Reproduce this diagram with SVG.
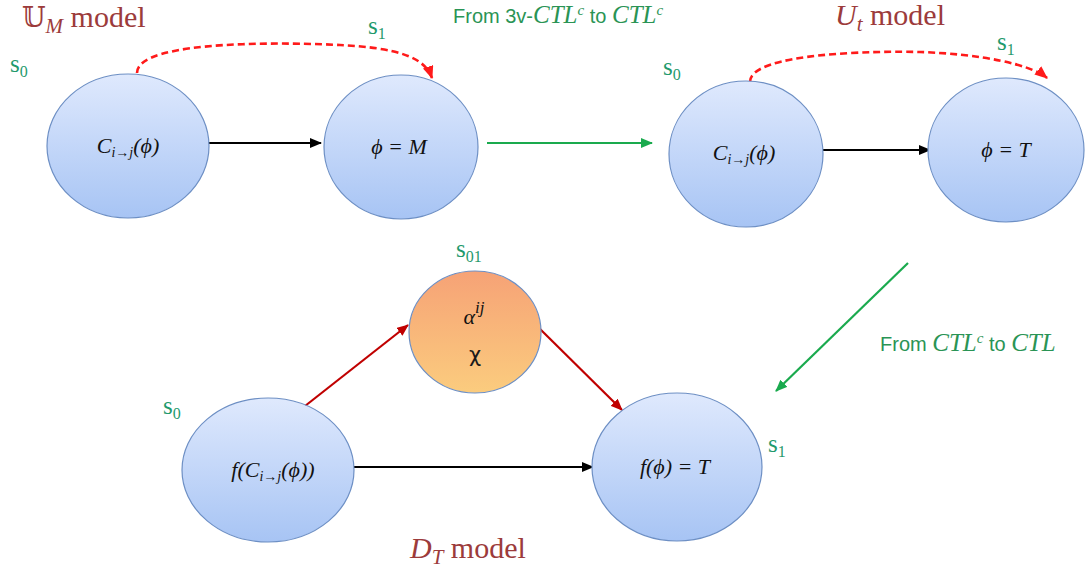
<svg xmlns="http://www.w3.org/2000/svg" width="1085" height="573" viewBox="0 0 1085 573">
<defs>
<linearGradient id="gBlue" x1="0" y1="0" x2="0" y2="1">
<stop offset="0" stop-color="#dfe9fd"/>
<stop offset="1" stop-color="#a7c4f4"/>
</linearGradient>
<linearGradient id="gOrange" x1="0" y1="0" x2="0" y2="1">
<stop offset="0" stop-color="#f6a276"/>
<stop offset="1" stop-color="#fbcc7e"/>
</linearGradient>
<marker id="mBlack" viewBox="0 0 12 10" refX="11" refY="5" markerWidth="12" markerHeight="10" markerUnits="userSpaceOnUse" orient="auto">
<path d="M0,0 L12,5 L0,10 Z" fill="#000"/>
</marker>
<marker id="mGreen" viewBox="0 0 12 10" refX="11" refY="5" markerWidth="12" markerHeight="10" markerUnits="userSpaceOnUse" orient="auto">
<path d="M0,0 L12,5 L0,10 Z" fill="#1aaa4e"/>
</marker>
<marker id="mRed" viewBox="0 0 12 10" refX="11" refY="5" markerWidth="12" markerHeight="10" markerUnits="userSpaceOnUse" orient="auto">
<path d="M0,0 L12,5 L0,10 Z" fill="#c00000"/>
</marker>
<marker id="mRedD" viewBox="0 0 12 10" refX="11" refY="5" markerWidth="13" markerHeight="11" markerUnits="userSpaceOnUse" orient="auto">
<path d="M0,0 L12,5 L0,10 Z" fill="#ff1a1a"/>
</marker>
</defs>
<style>
.blue{fill:url(#gBlue);stroke:#6d8fc4;stroke-width:1.2}
.orange{fill:url(#gOrange);stroke:#6d8fc4;stroke-width:1.2}
.math{font-family:"Liberation Serif","DejaVu Serif",serif;font-style:italic;font-size:22px;fill:#111}
.sub{font-size:14px}
.state{font-family:"Liberation Serif","DejaVu Serif",serif;font-size:25px;fill:#1f9a6c}
.ssub{font-size:16px}
.title{font-family:"Liberation Serif","DejaVu Serif",serif;font-size:30px;fill:#9c3b3b}
.green{font-family:"Liberation Sans","Open Sans",sans-serif;font-size:20px;fill:#2a9455}
.gm{font-family:"Liberation Serif","DejaVu Serif",serif;font-style:italic;font-size:25px}
.sup{font-size:15px}
.blk{stroke:#000;stroke-width:2.2;fill:none}
.grn{stroke:#1aaa4e;stroke-width:2.2;fill:none}
.red{stroke:#c00000;stroke-width:2.2;fill:none}
.dash{stroke:#ff1a1a;stroke-width:2.6;fill:none;stroke-dasharray:7,4}
</style>

<g id="labels">
<text class="title" x="22" y="27"><tspan font-family="DejaVu Serif" font-size="27">𝕌</tspan><tspan font-style="italic" font-size="21" dy="6">M</tspan><tspan dy="-6"> model</tspan></text>
<text class="title" x="835" y="25"><tspan font-style="italic">U</tspan><tspan font-style="italic" font-size="21" dy="6">t</tspan><tspan dy="-6"> model</tspan></text>
<text class="title" x="410" y="558"><tspan font-style="italic">D</tspan><tspan font-style="italic" font-size="21" dy="6">T</tspan><tspan dy="-6"> model</tspan></text>
<text class="green" x="453" y="23">From 3v-<tspan class="gm">CTL</tspan><tspan class="gm sup" dy="-8">c</tspan><tspan dy="8"> to </tspan><tspan class="gm">CTL</tspan><tspan class="gm sup" dy="-8">c</tspan></text>
<text class="green" x="880" y="351">From <tspan class="gm">CTL</tspan><tspan class="gm sup" dy="-8">c</tspan><tspan dy="8">  to </tspan><tspan class="gm">CTL</tspan></text>
<text class="state" x="10" y="72">s<tspan class="ssub" dy="5">0</tspan></text>
<text class="state" x="368" y="34">s<tspan class="ssub" dy="5">1</tspan></text>
<text class="state" x="663" y="75">s<tspan class="ssub" dy="5">0</tspan></text>
<text class="state" x="997" y="50">s<tspan class="ssub" dy="5">1</tspan></text>
<text class="state" x="456" y="257">s<tspan class="ssub" dy="5">01</tspan></text>
<text class="state" x="163" y="414">s<tspan class="ssub" dy="5">0</tspan></text>
<text class="state" x="768" y="452">s<tspan class="ssub" dy="5">1</tspan></text>
</g>

<g id="connectors">
<path class="dash" d="M137,73 C137,38 300,43 340,45 C400,48 425,58 432,78" marker-end="url(#mRedD)"/>
<path class="dash" d="M750,82 C750,52 880,51 920,52 C980,54 1030,64 1047,78" marker-end="url(#mRedD)"/>
<line class="blk" x1="208" y1="143" x2="321" y2="143" marker-end="url(#mBlack)"/>
<line class="blk" x1="823" y1="150" x2="930" y2="150" marker-end="url(#mBlack)"/>
<line class="blk" x1="354" y1="467" x2="593" y2="467" marker-end="url(#mBlack)"/>
<line class="grn" x1="487" y1="143" x2="652" y2="143" marker-end="url(#mGreen)"/>
<line class="grn" x1="908" y1="263" x2="776" y2="391" marker-end="url(#mGreen)"/>
<line class="red" x1="305" y1="406" x2="408" y2="325" marker-end="url(#mRed)"/>
<line class="red" x1="538" y1="327" x2="622" y2="410" marker-end="url(#mRed)"/>
</g>

<g id="node-um-s0">
<ellipse class="blue" cx="128" cy="146" rx="81" ry="72"/>
<text class="math" x="128" y="153" text-anchor="middle">C<tspan class="sub" dy="4">i→j</tspan><tspan dy="-4">(ϕ)</tspan></text>
</g>
<g id="node-um-s1">
<ellipse class="blue" cx="401" cy="147" rx="77" ry="72"/>
<text class="math" x="399" y="154" text-anchor="middle">ϕ = M</text>
</g>
<g id="node-ut-s0">
<ellipse class="blue" cx="746" cy="154" rx="77" ry="73"/>
<text class="math" x="744" y="160" text-anchor="middle">C<tspan class="sub" dy="4">i→j</tspan><tspan dy="-4">(ϕ)</tspan></text>
</g>
<g id="node-ut-s1">
<ellipse class="blue" cx="1006" cy="150" rx="78" ry="72"/>
<text class="math" x="1006" y="157" text-anchor="middle">ϕ = T</text>
</g>
<g id="node-dt-s01">
<ellipse class="orange" cx="475" cy="332" rx="66" ry="61"/>
<text class="math" x="474" y="324" text-anchor="middle" font-size="27">α<tspan font-size="17" dy="-11">ij</tspan></text>
<text x="475" y="362" text-anchor="middle" font-family="DejaVu Sans, sans-serif" font-size="21" fill="#1a1a1a">χ</text>
</g>
<g id="node-dt-s0">
<ellipse class="blue" cx="268" cy="470" rx="86" ry="72"/>
<text class="math" x="273" y="477" text-anchor="middle">f(C<tspan class="sub" dy="4">i→j</tspan><tspan dy="-4">(ϕ))</tspan></text>
</g>
<g id="node-dt-s1">
<ellipse class="blue" cx="677" cy="467" rx="85" ry="74"/>
<text class="math" x="675" y="474" text-anchor="middle">f(ϕ) = T</text>
</g>
</svg>
